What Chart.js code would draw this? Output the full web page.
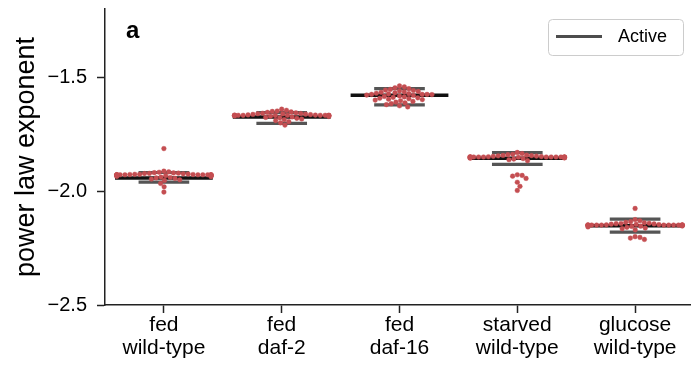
<!DOCTYPE html>
<html>
<head>
<meta charset="utf-8">
<script src="https://cdn.jsdelivr.net/npm/chart.js@4/dist/chart.umd.min.js"></script>
<style>
  html, body { margin: 0; padding: 0; background: #fff; overflow: hidden; }
  #wrap { width: 694px; height: 376px; position: relative; }
</style>
</head>
<body>
<div id="wrap"><canvas id="chart"></canvas></div>
<script>
// categories and tick labels
const categories = [['fed', 'wild-type'], ['fed', 'daf-2'], ['fed', 'daf-16'], ['starved', 'wild-type'], ['glucose', 'wild-type']];
const yTicks = [-2.5, -2.0, -1.5];

// power law exponents per condition
const fedWildType = [-1.813, -1.912, -1.915, -1.917, -1.919, -1.920, -1.921, -1.922, -1.923, -1.924, -1.925,
  -1.926, -1.926, -1.927, -1.927, -1.928, -1.928, -1.928, -1.928, -1.928, -1.928, -1.928, -1.928, -1.928,
  -1.928, -1.929, -1.929, -1.930, -1.930, -1.931, -1.932, -1.933, -1.934, -1.935, -1.936, -1.938, -1.940,
  -1.942, -1.944, -1.947, -1.950, -1.953, -1.966, -1.981, -2.004];
const fedDaf2 = [-1.640, -1.645, -1.648, -1.650, -1.652, -1.654, -1.656, -1.658, -1.659, -1.660, -1.661,
  -1.662, -1.663, -1.664, -1.665, -1.666, -1.667, -1.667, -1.667, -1.667, -1.667, -1.667, -1.667, -1.667,
  -1.667, -1.667, -1.668, -1.669, -1.670, -1.671, -1.672, -1.674, -1.676, -1.678, -1.680, -1.683, -1.686,
  -1.690, -1.695, -1.700, -1.710];
const fedDaf16 = [-1.538, -1.542, -1.546, -1.550, -1.553, -1.556, -1.558, -1.560, -1.562, -1.564, -1.566,
  -1.568, -1.570, -1.572, -1.573, -1.575, -1.575, -1.575, -1.576, -1.578, -1.580, -1.582, -1.584, -1.586,
  -1.588, -1.590, -1.592, -1.594, -1.596, -1.598, -1.600, -1.603, -1.606, -1.609, -1.612, -1.616, -1.620,
  -1.625, -1.630];
const starvedWildType = [-1.830, -1.835, -1.838, -1.840, -1.842, -1.843, -1.844, -1.845, -1.846, -1.847,
  -1.848, -1.849, -1.850, -1.850, -1.850, -1.850, -1.850, -1.850, -1.850, -1.850, -1.850, -1.850, -1.850,
  -1.850, -1.850, -1.850, -1.851, -1.852, -1.853, -1.854, -1.855, -1.857, -1.859, -1.862, -1.866, -1.928,
  -1.931, -1.934, -1.944, -1.961, -1.979, -1.997];
const glucoseWildType = [-2.076, -2.125, -2.130, -2.134, -2.137, -2.139, -2.141, -2.142, -2.143, -2.144,
  -2.145, -2.146, -2.147, -2.148, -2.149, -2.149, -2.149, -2.149, -2.149, -2.149, -2.149, -2.149, -2.149,
  -2.149, -2.149, -2.149, -2.149, -2.149, -2.150, -2.151, -2.152, -2.153, -2.154, -2.155, -2.157, -2.159,
  -2.162, -2.165, -2.170, -2.200, -2.203, -2.206, -2.212];
const groups = [fedWildType, fedDaf2, fedDaf16, starvedWildType, glucoseWildType];

// "Active" box: whisker caps and the (collapsed) box
const capHigh = [-1.918, -1.655, -1.550, -1.831, -2.123];
const capLow = [-1.960, -1.702, -1.621, -1.882, -2.180];
const boxLevel = [-1.942, -1.674, -1.579, -1.855, -2.152];

const boxWidth = 0.83, capWidth = 0.43, swarmWidth = 0.8;
const dotRadius = 2.35;
const FONT = "'Liberation Sans', Arial, Helvetica, sans-serif";

function halfWidthPx(chart, w) {
  const xs = chart.scales.x;
  return (xs.getPixelForValue(w) - xs.getPixelForValue(0)) / 2;
}

const extras = {
  id: 'extras',
  afterDraw(chart) {
    const c = chart.ctx;
    c.save();
    // panel letter
    c.fillStyle = '#000';
    c.font = 'bold 24px ' + FONT;
    c.textBaseline = 'alphabetic';
    c.fillText('a', 126, 38);
    // legend
    const x0 = 548, y0 = 19, w = 135, h = 36, r = 4;
    c.beginPath();
    c.roundRect(x0 + 0.5, y0 + 0.5, w, h, r);
    c.fillStyle = 'rgba(255,255,255,0.8)';
    c.fill();
    c.strokeStyle = '#cccccc';
    c.lineWidth = 1;
    c.stroke();
    c.beginPath();
    c.moveTo(556, 36.5);
    c.lineTo(602, 36.5);
    c.strokeStyle = '#4d4d4d';
    c.lineWidth = 3;
    c.stroke();
    c.fillStyle = '#000';
    c.font = '18px ' + FONT;
    c.textBaseline = 'middle';
    c.fillText('Active', 618, 37);
    c.restore();
  }
};

const chart = new Chart(document.getElementById('chart'), {
  type: 'scatter',
  data: {
    datasets: [
      {
        label: 'swarm',
        data: groups.flatMap((vals, i) => vals.map(v => ({ x: i, y: v }))),
        pointRadius: dotRadius,
        pointBackgroundColor: '#c44e52',
        pointBorderColor: '#c44e52',
        pointBorderWidth: 0.4,
        order: 0
      },
      {
        label: 'Active',
        data: boxLevel.map((v, i) => ({ x: i, y: v })),
        pointStyle: 'line',
        pointRadius: ctx => halfWidthPx(ctx.chart, boxWidth),
        pointBorderColor: '#111111',
        pointBorderWidth: 3.5,
        order: 1
      },
      {
        label: 'caps',
        data: capHigh.map((v, i) => ({ x: i, y: v })).concat(capLow.map((v, i) => ({ x: i, y: v }))),
        pointStyle: 'line',
        pointRadius: ctx => halfWidthPx(ctx.chart, capWidth),
        pointBorderColor: '#555555',
        pointBorderWidth: 3.2,
        order: 2
      }
    ]
  },
  options: {
    responsive: true,
    maintainAspectRatio: false,
    animation: false,
    events: [],
    layout: { autoPadding: false, padding: { top: 9, left: 0, right: 0, bottom: 0 } },
    plugins: { legend: { display: false }, tooltip: { enabled: false } },
    scales: {
      x: {
        type: 'linear',
        min: -0.5,
        max: 4.5,
        afterBuildTicks: axis => { axis.ticks = categories.map((_, i) => ({ value: i })); },
        afterFit: axis => { axis.height = 71; axis.paddingLeft = 0; axis.paddingRight = 0; },
        ticks: {
          callback: v => categories[v],
          color: '#000',
          font: { family: FONT, size: 21, lineHeight: 1.1 },
          padding: 1,
          maxRotation: 0,
          autoSkip: false
        },
        grid: { display: true, drawOnChartArea: false, drawTicks: true, tickLength: 8, tickWidth: 1.5, tickColor: '#222' },
        border: { display: true, color: '#222', width: 1.5 }
      },
      y: {
        min: -2.5,
        max: -1.2,
        afterBuildTicks: axis => { axis.ticks = yTicks.map(v => ({ value: v })); },
        afterFit: axis => { axis.width = 105; axis.paddingTop = 0; axis.paddingBottom = 0; },
        ticks: {
          callback: v => v.toFixed(1).replace('-', '\u2212'),
          color: '#000',
          font: { family: FONT, size: 20 },
          padding: 10
        },
        grid: { display: true, drawOnChartArea: false, drawTicks: true, tickLength: 8, tickWidth: 1.5, tickColor: '#222' },
        border: { display: true, color: '#222', width: 1.5 },
        title: {
          display: true,
          text: 'power law exponent',
          color: '#000',
          font: { family: FONT, size: 27 },
          padding: { top: 10, bottom: 0 }
        }
      }
    }
  },
  plugins: [extras]
});

// beeswarm layout in pixel space, then back to data units
function layoutSwarm(chart) {
  const xs = chart.scales.x, ys = chart.scales.y;
  const pxPerUnit = xs.getPixelForValue(1) - xs.getPixelForValue(0);
  const d = 2 * dotRadius + 0.2;
  const maxOff = swarmWidth / 2 * pxPerUnit;
  const out = [];
  groups.forEach((vals, i) => {
    const pts = vals.map(v => ({ v, py: ys.getPixelForValue(v) })).sort((a, b) => a.py - b.py);
    const placed = [];
    pts.forEach(p => {
      const near = placed.filter(q => Math.abs(q.py - p.py) < d);
      const cands = [0];
      near.forEach(q => {
        const dx = Math.sqrt(d * d - (q.py - p.py) ** 2);
        cands.push(q.dx + dx, q.dx - dx);
      });
      cands.sort((a, b) => Math.abs(a) - Math.abs(b));
      p.dx = cands.find(c => near.every(q => (c - q.dx) ** 2 + (p.py - q.py) ** 2 >= d * d - 1e-6));
      placed.push(p);
    });
    placed.forEach(p => {
      const off = Math.max(-maxOff, Math.min(maxOff, p.dx));
      out.push({ x: i + off / pxPerUnit, y: p.v });
    });
  });
  chart.data.datasets[0].data = out;
  chart.update('none');
}
layoutSwarm(chart);
</script>
</body>
</html>
